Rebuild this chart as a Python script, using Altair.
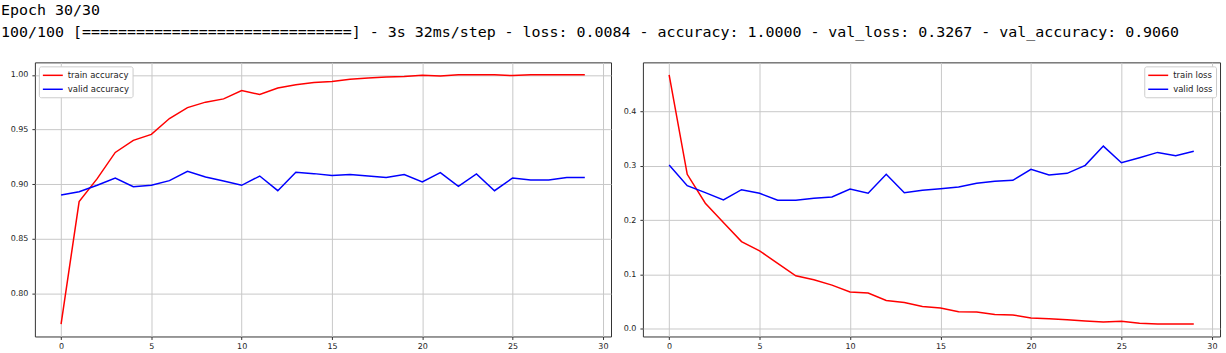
import altair as alt
import pandas as pd

epochs = list(range(30))

train_acc = [0.772, 0.884, 0.905, 0.929, 0.940, 0.9455, 0.960, 0.970, 0.975, 0.978,
             0.9857, 0.982, 0.988, 0.991, 0.993, 0.994, 0.996, 0.997, 0.998, 0.9984,
             0.9997, 0.999, 1.0, 1.0, 1.0, 0.9993, 1.0, 1.0, 1.0, 1.0]
valid_acc = [0.890, 0.893, 0.899, 0.9056, 0.8977, 0.8989, 0.9032, 0.9117, 0.9065, 0.9028,
             0.8989, 0.9074, 0.894, 0.9108, 0.9096, 0.908, 0.9087, 0.9074, 0.906, 0.9087,
             0.902, 0.9105, 0.898, 0.9093, 0.894, 0.9056, 0.9038, 0.9038, 0.906, 0.906]
train_loss = [0.4673, 0.2842, 0.2309, 0.1953, 0.1603, 0.1432, 0.1199, 0.0972, 0.090, 0.0801,
              0.0673, 0.0654, 0.0518, 0.0482, 0.0408, 0.0379, 0.031, 0.0305, 0.0261, 0.025,
              0.0195, 0.0182, 0.0164, 0.014, 0.0123, 0.0134, 0.0097, 0.0086, 0.0086, 0.0084]
valid_loss = [0.3013, 0.2632, 0.2504, 0.2369, 0.2559, 0.2493, 0.2364, 0.2364, 0.240, 0.2425,
              0.2572, 0.2493, 0.2842, 0.2504, 0.2548, 0.2577, 0.2608, 0.2676, 0.2713, 0.2731,
              0.2934, 0.2829, 0.286, 0.3007, 0.3362, 0.3055, 0.3147, 0.3246, 0.3184, 0.3267]

acc_series = ["train accuracy", "valid accuracy"]
loss_series = ["train loss", "valid loss"]
line_colors = ["#ff0000", "#0000ff"]

x_ticks = [0, 5, 10, 15, 20, 25, 30]
acc_ticks = [0.80, 0.85, 0.90, 0.95, 1.00]
loss_ticks = [0.0, 0.1, 0.2, 0.3, 0.4]

header = [
    "Epoch 30/30",
    "100/100 [==============================] - 3s 32ms/step - loss: 0.0084 - accuracy: 1.0000 - val_loss: 0.3267 - val_accuracy: 0.9060",
]

acc_df = pd.DataFrame({
    "epoch": epochs * 2,
    "value": train_acc + valid_acc,
    "series": [acc_series[0]] * 30 + [acc_series[1]] * 30,
})
loss_df = pd.DataFrame({
    "epoch": epochs * 2,
    "value": train_loss + valid_loss,
    "series": [loss_series[0]] * 30 + [loss_series[1]] * 30,
})

x_enc = alt.X("epoch:Q", scale=alt.Scale(domain=[-1.45, 30.45], nice=False, zero=False),
              axis=alt.Axis(values=x_ticks, title=None, format="d", labelFlush=False))


def legend(orient):
    return alt.Legend(
        title=None, orient=orient, offset=4, fillColor="white", strokeColor="#cccccc",
        cornerRadius=2, padding=3, rowPadding=3, symbolType="M-1,0H3", symbolSize=100,
        symbolStrokeWidth=1.5, labelOffset=14, labelFont="DejaVu Sans", labelFontSize=8.5,
        labelColor="#222222",
    )


left = alt.Chart(acc_df).mark_line(strokeWidth=1.5).encode(
    x=x_enc,
    y=alt.Y("value:Q", scale=alt.Scale(domain=[0.7606, 1.0114], nice=False, zero=False),
            axis=alt.Axis(values=acc_ticks, format=".2f", title=None,
                          minExtent=34, maxExtent=34)),
    color=alt.Color("series:N", scale=alt.Scale(domain=acc_series, range=line_colors),
                    legend=legend("top-left")),
).properties(width=578, height=275)

right = alt.Chart(loss_df).mark_line(strokeWidth=1.5).encode(
    x=x_enc,
    y=alt.Y("value:Q", scale=alt.Scale(domain=[-0.0146, 0.4905], nice=False, zero=False),
            axis=alt.Axis(values=loss_ticks, format=".1f", title=None,
                          minExtent=30, maxExtent=30)),
    color=alt.Color("series:N", scale=alt.Scale(domain=loss_series, range=line_colors),
                    legend=legend("top-right")),
).properties(width=579, height=275)

chart = alt.hconcat(left, right, spacing=0).resolve_scale(
    color="independent"
).resolve_legend(color="independent").properties(
    title=alt.TitleParams(
        header, anchor="start", frame="group", font="DejaVu Sans Mono", fontSize=15,
        fontWeight="normal", lineHeight=22, color="#000000", baseline="top", offset=22,
        dx=-34,
    ),
    padding={"left": 0, "top": 2, "right": 5, "bottom": 0},
).configure_view(
    stroke="#333333", strokeWidth=1
).configure_axis(
    grid=True, gridColor="#c8c8c8", gridWidth=1, domain=False, ticks=True,
    tickColor="#333333", tickSize=3, labelFont="DejaVu Sans", labelFontSize=8,
    labelColor="#222222", labelPadding=4,
).configure_axisX(labelPadding=3)

chart.save("out.html", embed_options={"renderer": "svg", "actions": False})
